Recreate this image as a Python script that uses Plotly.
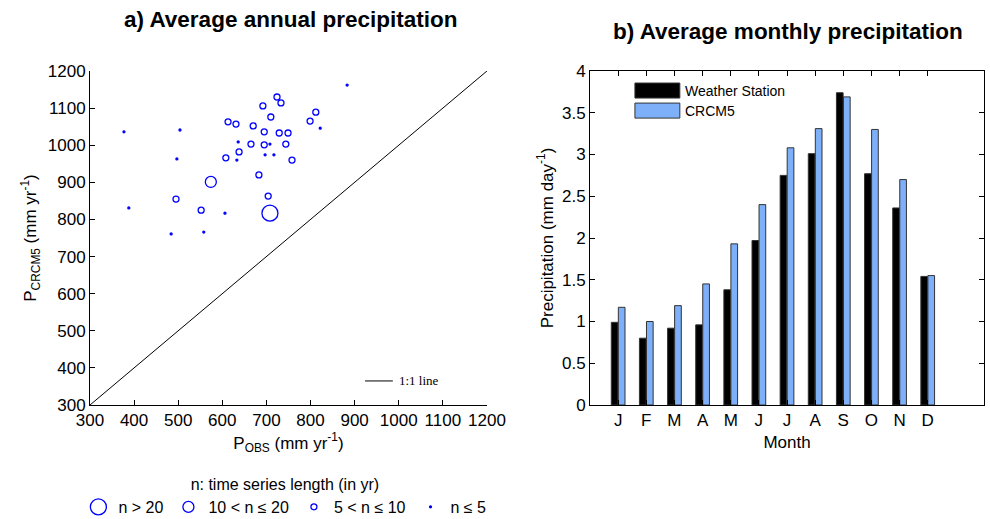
import plotly.graph_objects as go

# ---- Panel a data: observed vs CRCM5 annual precipitation (mm/yr), by record length class
obs_gt20 = [708]
mod_gt20 = [817]
obs_10_20 = [574]
mod_10_20 = [901]
obs_5_10 = [495, 552, 613, 631, 670, 692, 724, 733, 710, 695, 729, 749, 638, 608, 665, 695,
            744, 758, 683, 704, 799, 812]
mod_5_10 = [855, 825, 1063, 1057, 1052, 1106, 1130, 1114, 1076, 1036, 1033, 1033, 982, 966,
            1003, 1001, 1003, 960, 920, 863, 1065, 1089]
obs_le5 = [377, 504, 497, 388, 484, 558, 606, 636, 633, 697, 717, 708, 822, 883]
mod_le5 = [1036, 1041, 963, 831, 761, 766, 817, 1009, 960, 974, 974, 1003, 1046, 1162]
one_to_one = [300, 1200]

# ---- Panel b data: average monthly precipitation (mm/day)
months = ["J", "F", "M", "A", "M", "J", "J", "A", "S", "O", "N", "D"]
month_num = list(range(1, 13))
station = [0.99, 0.80, 0.92, 0.96, 1.38, 1.97, 2.75, 3.01, 3.74, 2.77, 2.36, 1.54]
crcm5 = [1.17, 1.00, 1.19, 1.45, 1.93, 2.40, 3.08, 3.31, 3.69, 3.30, 2.70, 1.55]

BLUE = "#0000FF"
LIGHT = "#7EB0FA"
FONT = "Liberation Sans, Arial, sans-serif"

fig = go.Figure()

fig.add_trace(go.Scatter(x=one_to_one, y=one_to_one, mode="lines",
                         line=dict(color="black", width=1), showlegend=False,
                         xaxis="x", yaxis="y"))

groups = [
    (obs_gt20, mod_gt20, 16, "n > 20"),
    (obs_10_20, mod_10_20, 11, "10 < n ≤ 20"),
    (obs_5_10, mod_5_10, 6, "5 < n ≤ 10"),
    (obs_le5, mod_le5, 2, "n ≤ 5"),
]
for ox, my, sz, name in groups:
    fig.add_trace(go.Scatter(
        x=ox, y=my, mode="markers", name=name,
        marker=dict(symbol="circle-open" if sz > 2 else "circle", size=sz, color=BLUE,
                    line=dict(color=BLUE, width=1.3)),
        xaxis="x", yaxis="y", legend="legend"))

fig.add_trace(go.Bar(x=month_num, y=station, name="Weather Station",
                     marker=dict(color="black", line=dict(color="#333333", width=1)),
                     xaxis="x2", yaxis="y2", showlegend=False))
fig.add_trace(go.Bar(x=month_num, y=crcm5, name="CRCM5",
                     marker=dict(color=LIGHT, line=dict(color="#333333", width=1)),
                     xaxis="x2", yaxis="y2", showlegend=False))

tickfont = dict(family=FONT, size=17, color="black")
titlefont = dict(family=FONT, size=17, color="black")

fig.update_layout(
    width=990, height=519,
    margin=dict(l=90, r=6, t=71, b=114, autoexpand=False),
    paper_bgcolor="white", plot_bgcolor="white",
    font=dict(family=FONT, color="black"),
    barmode="group", bargap=0.5, bargroupgap=0.05,
    xaxis=dict(domain=[0, 0.444], range=[300, 1200], tickmode="array",
               tickvals=list(range(300, 1201, 100)), ticks="inside", ticklen=5,
               tickcolor="black", showline=True, linecolor="black", linewidth=1,
               showgrid=False, zeroline=False, tickfont=tickfont,
               title=dict(text="P<sub>OBS</sub> (mm yr<sup>-1</sup>)", font=titlefont, standoff=5),
               anchor="y"),
    yaxis=dict(domain=[0, 1], range=[300, 1200], tickmode="array",
               tickvals=list(range(300, 1201, 100)), ticks="inside", ticklen=5,
               tickcolor="black", showline=True, linecolor="black", linewidth=1,
               showgrid=False, zeroline=False, tickfont=tickfont,
               title=dict(text="P<sub>CRCM5</sub> (mm yr<sup>-1</sup>)", font=titlefont, standoff=6),
               anchor="x"),
    xaxis2=dict(domain=[0.5593, 1], range=[0, 14], tickmode="array",
                tickvals=month_num, ticktext=months, ticks="inside", ticklen=5,
                tickcolor="black", showline=True, linecolor="black", linewidth=1,
                mirror="ticks", showgrid=False, zeroline=False, tickfont=tickfont,
                title=dict(text="Month", font=titlefont, standoff=6), anchor="y2"),
    yaxis2=dict(domain=[0, 1], range=[0, 4], dtick=0.5, ticks="inside", ticklen=5,
                tickcolor="black", showline=True, linecolor="black", linewidth=1,
                mirror="ticks", showgrid=False, zeroline=False, tickfont=tickfont,
                title=dict(text="Precipitation (mm day<sup>-1</sup>)", font=titlefont, standoff=4),
                anchor="x2"),
    legend=dict(orientation="h", x=0.218, xanchor="center", y=-0.192, yanchor="top",
                itemsizing="trace", font=dict(family=FONT, size=16, color="black"),
                title=dict(text="n: time series length (in yr)", side="top center",
                           font=dict(family=FONT, size=16, color="black")),
                bgcolor="rgba(0,0,0,0)", tracegroupgap=0),
)

# Panel titles
fig.add_annotation(text="<b>a) Average annual precipitation</b>", xref="paper", yref="paper",
                   x=0.2248, y=1.153, xanchor="center", yanchor="middle", showarrow=False,
                   font=dict(family=FONT, size=22.5, color="black"))
fig.add_annotation(text="<b>b) Average monthly precipitation</b>", xref="paper", yref="paper",
                   x=0.781, y=1.117, xanchor="center", yanchor="middle", showarrow=False,
                   font=dict(family=FONT, size=22.5, color="black"))

# 1:1 line key
fig.add_shape(type="line", xref="x domain", yref="y domain", x0=0.693, x1=0.763, y0=0.072, y1=0.072,
              line=dict(color="black", width=1))
fig.add_annotation(text="1:1 line", xref="x domain", yref="y domain", x=0.773, y=0.072,
                   xanchor="left", yanchor="middle", showarrow=False,
                   font=dict(family="Liberation Serif, Times New Roman, serif", size=13, color="black"))

# Bar legend keys
fig.add_shape(type="rect", xref="x2 domain", yref="y2 domain", x0=0.114, x1=0.228, y0=0.919, y1=0.964,
              fillcolor="black", line=dict(color="#333333", width=1))
fig.add_shape(type="rect", xref="x2 domain", yref="y2 domain", x0=0.114, x1=0.228, y0=0.859, y1=0.904,
              fillcolor=LIGHT, line=dict(color="#333333", width=1))
fig.add_annotation(text="Weather Station", xref="x2 domain", yref="y2 domain", x=0.236, y=0.941,
                   xanchor="left", yanchor="middle", showarrow=False,
                   font=dict(family=FONT, size=14, color="black"))
fig.add_annotation(text="CRCM5", xref="x2 domain", yref="y2 domain", x=0.236, y=0.881,
                   xanchor="left", yanchor="middle", showarrow=False,
                   font=dict(family=FONT, size=14, color="black"))

fig.write_html("out.html")
